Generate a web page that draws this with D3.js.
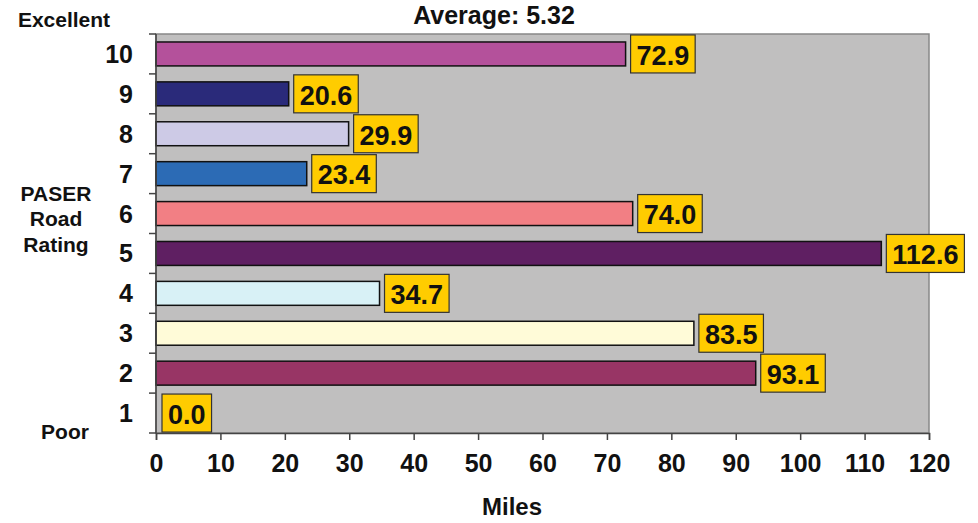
<!DOCTYPE html>
<html>
<head>
<meta charset="utf-8">
<script src="https://cdn.jsdelivr.net/npm/d3@7"></script>
<style>
  html, body { margin: 0; padding: 0; background: #fff; }
  svg { display: block; }
  text { font-family: "Liberation Sans", Arial, Helvetica, sans-serif; font-weight: bold; }
</style>
</head>
<body>
<svg id="chart" width="978" height="523"></svg>
<script>
const ratings = ["10", "9", "8", "7", "6", "5", "4", "3", "2", "1"];
const miles   = [72.9, 20.6, 29.9, 23.4, 74.0, 112.6, 34.7, 83.5, 93.1, 0.0];
const barColors = ["#B4519B", "#2A2A7A", "#CDCAE6", "#2C6BB5", "#F27F84", "#5F1F62", "#D8F1F6", "#FFFBD8", "#983565", "#999999"];
const xTicks = [0, 10, 20, 30, 40, 50, 60, 70, 80, 90, 100, 110, 120];
const titleText = "Average: 5.32";
const xTitle = "Miles";
const yTitleLines = ["PASER", "Road", "Rating"];
const topLabel = "Excellent";
const bottomLabel = "Poor";

(function () {
const svg = d3.select("#chart");
const pL = 156, pR = 929, pT = 34, pB = 433;

const x = d3.scaleLinear().domain([0, 120]).range([pL, pR]);
const y = d3.scaleBand().domain(ratings).range([pT, pB]).paddingInner(0.4).paddingOuter(0.2);

// Plot background
svg.append("rect")
  .attr("x", pL).attr("y", pT)
  .attr("width", pR - pL).attr("height", pB - pT)
  .attr("fill", "#C0BFBF")
  .attr("stroke", "#888").attr("stroke-width", 1.5);

// Bars
svg.append("g").selectAll("rect")
  .data(ratings)
  .join("rect")
  .attr("x", x(0))
  .attr("y", (d) => y(d))
  .attr("width", (d, i) => x(miles[i]) - x(0))
  .attr("height", y.bandwidth())
  .attr("fill", (d, i) => barColors[i])
  .attr("stroke", (d, i) => miles[i] > 0 ? "#111" : "none")
  .attr("stroke-width", 1.5);

// Y axis line and boundary ticks
const step = y.step();
const boundaries = ratings.map(d => y(d) - step * 0.2).concat([pB]);
const axG = svg.append("g");
axG.append("line").attr("x1", pL).attr("x2", pL).attr("y1", pT).attr("y2", pB)
  .attr("stroke", "#444").attr("stroke-width", 1.5);
axG.selectAll("line.tk").data(boundaries).join("line").attr("class", "tk")
  .attr("x1", pL - 7).attr("x2", pL).attr("y1", d => d).attr("y2", d => d)
  .attr("stroke", "#444").attr("stroke-width", 1.5);
axG.selectAll("text").data(ratings).join("text")
  .attr("x", 133).attr("y", d => y(d) + y.bandwidth() / 2)
  .attr("dy", "0.36em").attr("text-anchor", "end")
  .attr("font-size", 25).attr("fill", "#111")
  .text(d => d);

// X axis
const xAxis = d3.axisBottom(x).tickValues(xTicks).tickSize(7).tickPadding(14).tickFormat(d3.format("d"));
const xg = svg.append("g").attr("transform", `translate(0,${pB})`).call(xAxis);
xg.select(".domain").attr("stroke", "#444").attr("stroke-width", 1.5);
xg.selectAll(".tick line").attr("stroke", "#444").attr("stroke-width", 1.5);
xg.selectAll(".tick text")
  .attr("font-size", 25).attr("fill", "#111")
  .attr("font-family", "'Liberation Sans', Arial, sans-serif").attr("font-weight", "bold");

// Value labels
const lab = svg.append("g").selectAll("g").data(ratings).join("g");
lab.each(function(d, i) {
  const g = d3.select(this);
  const cy = y(d) + y.bandwidth() / 2;
  const bx = x(miles[i]) + (miles[i] > 0 ? 5 : 6);
  const rect = g.append("rect");
  const t = g.append("text")
    .attr("font-size", 27).attr("fill", "#111")
    .attr("y", cy).attr("dy", "0.4em")
    .text(miles[i].toFixed(1));
  const w = t.node().getComputedTextLength() + 12;
  t.attr("x", bx + 6);
  rect.attr("x", bx).attr("y", cy - 19).attr("width", w).attr("height", 38)
    .attr("fill", "#FFCC00").attr("stroke", "#333").attr("stroke-width", 1.2);
});

// Title
svg.append("text").attr("x", 494).attr("y", 24).attr("text-anchor", "middle")
  .attr("font-size", 25).attr("fill", "#111").text(titleText);

// Axis titles
svg.append("text").attr("x", 512).attr("y", 515).attr("text-anchor", "middle")
  .attr("font-size", 24).attr("fill", "#111").text(xTitle);

svg.append("text").attr("x", 64).attr("y", 27).attr("text-anchor", "middle")
  .attr("font-size", 21).attr("fill", "#111").text(topLabel);
svg.append("text").attr("x", 65).attr("y", 439).attr("text-anchor", "middle")
  .attr("font-size", 21).attr("fill", "#111").text(bottomLabel);

svg.append("g").selectAll("text").data(yTitleLines).join("text")
  .attr("x", 56).attr("y", (d, i) => 200.5 + i * 25.5)
  .attr("text-anchor", "middle")
  .attr("font-size", 21).attr("fill", "#111")
  .text(d => d);
})();
</script>
</body>
</html>
